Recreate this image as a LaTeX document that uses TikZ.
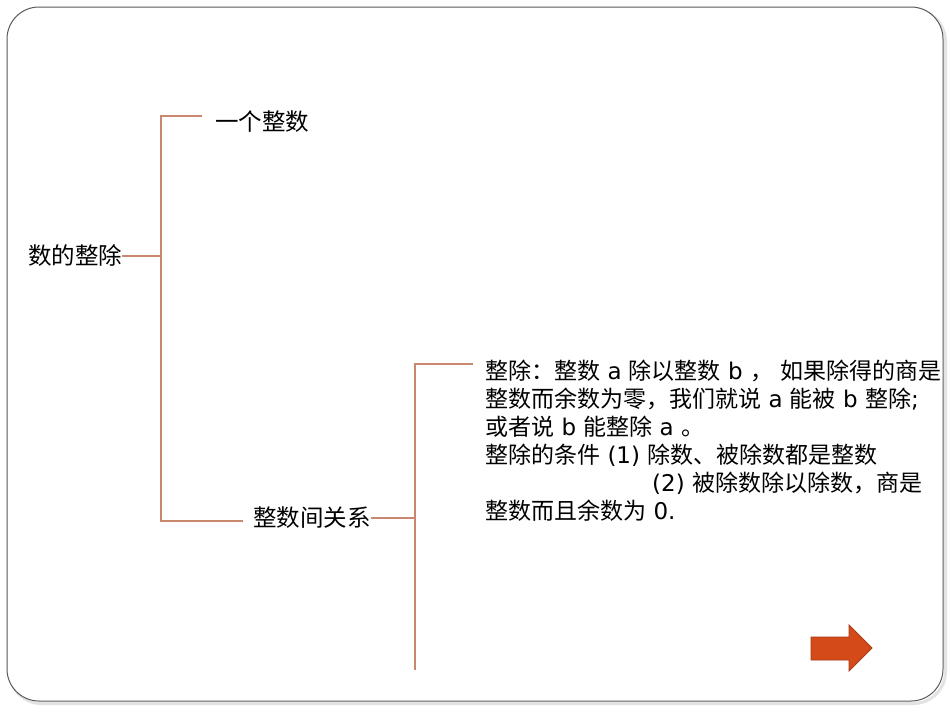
\documentclass[tikz,border=0pt]{standalone}
\usepackage{fontspec}
\setmainfont{Noto Sans CJK SC}
\newfontfamily\latfont{DejaVu Sans}
\newcommand\la[1]{{\latfont #1}}
\definecolor{brk}{RGB}{200,135,110}
\definecolor{arrowfill}{RGB}{212,75,25}
\definecolor{arrowline}{RGB}{165,58,20}
\definecolor{frame}{RGB}{90,90,90}
\begin{document}
\begin{tikzpicture}[x=1pt,y=-1pt,
  lbl/.style={inner sep=0pt, font=\fontsize{23.5}{28}\selectfont, anchor=west},
  txt/.style={inner sep=0pt, font=\fontsize{23}{28}\selectfont, anchor=base west},
  brline/.style={draw=brk, line width=1.3pt}]
\useasboundingbox (0,0) rectangle (950,713);
\fill[white] (0,0) rectangle (950,713);
% frame with faint shadow
\draw[gray!22, line width=3pt, rounded corners=32pt] (9.5,9.5) rectangle (945.5,703.5);
\draw[frame, line width=1pt, fill=white, rounded corners=32pt] (7,7) rectangle (943,701);
% labels
\node[lbl] (root) at (28,256) {数的整除};
\node[lbl] (one) at (215,122) {一个整数};
\node[lbl] (rel) at (253,518) {整数间关系};
% first bracket
\coordinate (b1top) at (161,116);
\coordinate (b1bot) at (161,521);
\coordinate (b1topend) at (202,116);
\coordinate (b1botend) at (243,521);
\draw[brline] (root.east) -- (root.east -| b1top);
\draw[brline] (b1topend) -- (b1top) -- (b1bot) -- (b1botend);
% second bracket
\coordinate (b2top) at (415,364);
\coordinate (b2topend) at (473,364);
\coordinate (b2bot) at (415,670);
\draw[brline] (rel.east) -- (rel.east -| b2top);
\draw[brline] (b2topend) -- (b2top) -- (b2bot);
% definition text
\node[txt] (l1) at (485,379) {整除：整数\la{ a }除以整数\la{ b }，\la{ }如果除得的商是};
\node[txt] (l2) at (485,407) {整数而余数为零，我们就说\la{ a }能被\la{ b }整除\la{;}};
\node[txt] (l3) at (485,435) {或者说\la{ b }能整除\la{ a }。};
\node[txt] (l4) at (485,463) {整除的条件\la{ (1) }除数、被除数都是整数};
\node[txt] (l5) at (652,491) {\la{(2) }被除数除以除数，商是};
\node[txt] (l6) at (485,519) {整数而且余数为\la{ 0.}};
% next arrow
\draw[fill=arrowfill, draw=arrowline, line width=0.8pt, line join=miter]
  (811,637) -- (849,637) -- (849,625) -- (872,648) -- (849,671) -- (849,660) -- (811,660) -- cycle;
\end{tikzpicture}
\end{document}
